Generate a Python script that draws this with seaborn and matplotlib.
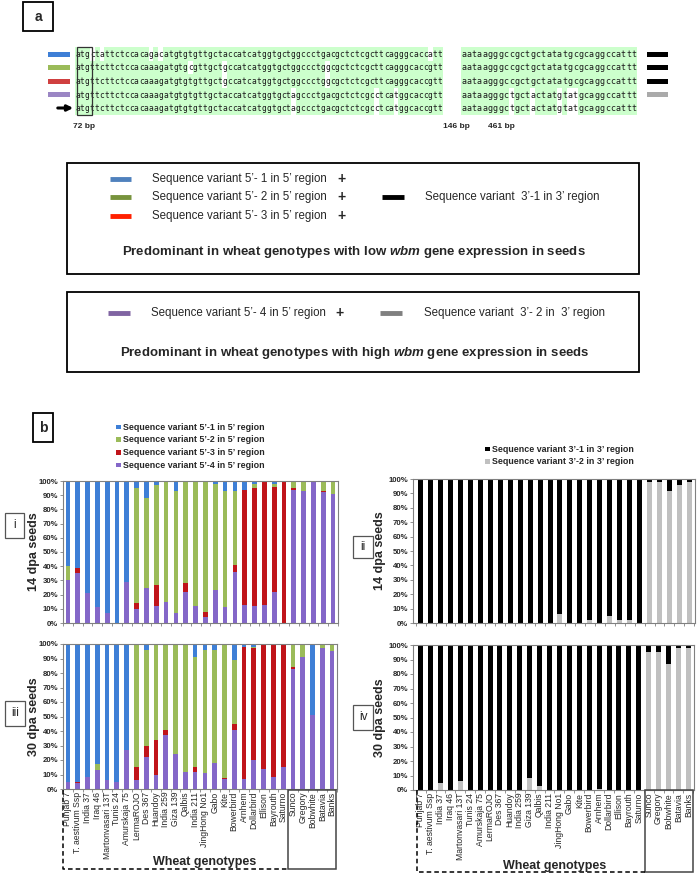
import numpy as np
import pandas as pd
import matplotlib
matplotlib.use("Agg")
import matplotlib.pyplot as plt
import seaborn as sns
from matplotlib.patches import Rectangle
from collections import Counter

sns.set_style("white")
plt.rcParams['font.family'] = ['Liberation Sans', 'DejaVu Sans']
plt.rcParams['mathtext.fontset'] = 'custom'
plt.rcParams['mathtext.it'] = 'Liberation Sans:italic:bold'
plt.rcParams['mathtext.rm'] = 'Liberation Sans:bold'

# ---------------- data ----------------
genotypes = ["Punjab 7", "T. aestivum Ssp", "India 37", "Iraq 46", "Martonvasari 13T",
             "Tunis 24", "Amurskaja 75", "LermaROJO", "Des 367", "Huandoy", "India 259",
             "Giza 139", "Qalbis", "India 211", "JingHong No1", "Gabo", "Kite",
             "Bowerbird", "Arnhem", "Dollarbird", "Ellison", "Bayrouth", "Saturno",
             "Sunco", "Gregory", "Bobwhite", "Batavia", "Banks"]

# 14 dpa, 5' region (% of clones)
v54_14 = [30, 35, 21, 11, 7, 0, 29, 10, 25, 12, 15, 7, 22, 12, 4, 23, 11, 36, 13, 12, 13, 22, 0, 94, 93, 99, 92, 91]
v53_14 = [0, 4, 0, 0, 0, 0, 0, 4, 0, 15, 0, 0, 6, 0, 4, 0, 0, 5, 81, 83, 86, 74, 100, 1, 0, 0, 1, 0]
v52_14 = [10, 0, 0, 0, 0, 0, 0, 81, 63, 70, 85, 86, 72, 88, 92, 75, 82, 52, 0, 3, 0, 2, 0, 5, 7, 0, 7, 9]
v51_14 = [60, 61, 79, 89, 93, 100, 71, 5, 12, 3, 0, 7, 0, 0, 0, 2, 7, 7, 6, 2, 1, 2, 0, 0, 0, 1, 0, 0]

# 30 dpa, 5' region
v54_30 = [5, 4, 8, 13, 6, 5, 27, 6, 22, 10, 37, 24, 12, 12, 11, 18, 7, 41, 7, 20, 14, 8, 15, 83, 91, 51, 97, 95]
v53_30 = [0, 1, 0, 0, 0, 0, 0, 9, 8, 24, 4, 0, 0, 3, 0, 0, 0.5, 4, 91, 77, 85, 91, 84, 1, 0, 0, 0, 0.5]
v52_30 = [0, 0, 0, 4, 0, 0, 0, 84, 66, 65, 59, 76, 88, 76, 85, 78, 92.5, 44, 0, 1, 1, 0, 0, 16, 9, 0, 3, 4.5]
v51_30 = [95, 95, 92, 83, 94, 95, 73, 1, 4, 1, 0, 0, 0, 9, 4, 4, 0, 11, 2, 2, 0, 1, 1, 0, 0, 49, 0, 0]

# 3' region
v32_14 = [0, 0, 0, 0, 0, 0, 0, 0, 0, 0, 0, 0, 0, 0, 6, 0, 0, 2, 0, 5, 2, 2, 0, 98, 98, 92, 96, 98]
v31_14 = [100, 100, 100, 100, 100, 100, 100, 100, 100, 100, 100, 100, 100, 100, 94, 100, 100, 98, 100, 95, 98, 98, 100, 2, 2, 8, 4, 2]
v32_30 = [0, 0, 5, 0, 6, 0, 0, 0, 0, 0, 0, 8, 3, 0, 0, 0, 0, 0, 1, 0, 0, 0, 0, 95, 95, 87, 98, 98]
v31_30 = [100, 100, 95, 100, 94, 100, 100, 100, 100, 100, 100, 92, 97, 100, 100, 100, 100, 100, 99, 100, 100, 100, 100, 5, 5, 13, 2, 2]

seqA = ["atgctattctccacagacatgtgtgttgctaccatcatggtgctggccctgacgctctcgcttcagggcaccatt",
        "atgttcttctccacaaagatgtgcgttgctgccatcatggtgctggccctggcgctctcgcttcagggcaccgtt",
        "atgttcttctccacaaagatgtgtgttgctgccatcatggtgctggccctggcgctctcgcttcagggcaccgtt",
        "atgttcttctccacaaagatgtgtgttgctaccatcatggtgctagccctgacgctctcgcctcatggcaccgtt",
        "atgttcttctccacaaagatgtgtgttgctaccatcatggtgctagccctgacgctctcgcctcatggcaccgtt"]
seqB = ["aataagggccgctgctatatgcgcaggccattt",
        "aataagggccgctgctatatgcgcaggccattt",
        "aataagggccgctgctatatgcgcaggccattt",
        "aataagggctgctactatgtatgcaggccattt",
        "aataagggctgctactatgtatgcaggccattt"]

c_blue, c_green, c_red, c_purple = "#3e7fd6", "#9bbb59", "#c0141a", "#8467c8"
c_black, c_lgray = "#000000", "#c0c0c0"

W, H = 700, 876
fig = plt.figure(figsize=(7, 8.76), dpi=100)
ov = fig.add_axes([0, 0, 1, 1], zorder=5)
ov.set_xlim(0, W); ov.set_ylim(H, 0); ov.axis('off'); ov.patch.set_alpha(0)

def px_axes(l, t, r, b):
    return fig.add_axes([l / W, 1 - b / H, (r - l) / W, (b - t) / H])

# ---------------- panel a ----------------
ov.add_patch(Rectangle((23, 2), 30, 29, fill=False, lw=1.3, ec='k'))
ov.text(38, 17, 'a', fontsize=10, fontweight='bold', ha='center', va='center')

rows_y = [54, 67.5, 81, 94.5, 108]

def draw_seg(seqs, x0, pitch, fs):
    n = len(seqs[0])
    for j in range(n):
        col = [s[j] for s in seqs]
        maj = Counter(col).most_common(1)[0][0]
        x = x0 + j * pitch
        for i, s in enumerate(seqs):
            if s[j] == maj:
                ov.add_patch(Rectangle((x - pitch / 2 - 0.05, rows_y[i] - 6.8), pitch + 0.1, 13.6,
                                       fc='#ccffcc', ec='none', zorder=1))
            ov.text(x, rows_y[i] + 0.5, s[j], fontsize=fs, family='DejaVu Sans Mono',
                    ha='center', va='center', zorder=2, color='#1a1a1a')

draw_seg(seqA, 77.5, 4.9, 5.7)
draw_seg(seqB, 463.5, 5.33, 6.0)

left_cols = [c_blue, c_green, "#d04040", "#9b86c4"]
for i, c in enumerate(left_cols):
    ov.add_patch(Rectangle((48, rows_y[i] - 2.5), 22, 5, fc=c, ec='none'))
for i, c in enumerate(['k', 'k', 'k', '#aaaaaa']):
    ov.add_patch(Rectangle((647, rows_y[i] - 2.5), 21, 5, fc=c, ec='none'))
ov.annotate('', xy=(76, rows_y[4]), xytext=(55, rows_y[4]),
            arrowprops=dict(arrowstyle='-|>', lw=2.2, color='k', mutation_scale=8))
ov.add_patch(Rectangle((77, 47), 15, 68, fill=False, lw=0.9, ec='#333333', zorder=3))
for x, t in [(84, '72 bp'), (456, '146 bp'), (501, '461 bp')]:
    ov.text(x, 127, t, fontsize=6, fontweight='bold', ha='center', va='center')

# legend box 1
ov.add_patch(Rectangle((67, 163), 572, 111, fill=False, lw=1.3, ec='k'))
for y, c, n in [(179, "#4f81bd", "1"), (197, "#77933c", "2"), (216, "#ff2000", "3")]:
    ov.plot([110, 131], [y, y], color=c, lw=3.5, solid_capstyle='butt')
    ov.text(152, y, "Sequence variant 5\u2019- %s in 5\u2019 region" % n, fontsize=8.3,
            va='center', ha='left')
    ov.text(342, y, "+", fontsize=10, fontweight='bold', va='center', ha='center')
ov.plot([382, 404], [197, 197], color='k', lw=3.5, solid_capstyle='butt')
ov.text(425, 197, "Sequence variant  3\u2019-1 in 3\u2019 region", fontsize=8.3,
        va='center', ha='left')
ov.text(354, 252, r"Predominant in wheat genotypes with low $\mathit{wbm}$ gene expression in seeds",
        fontsize=9.5, fontweight='bold', ha='center', va='center')
# legend box 2
ov.add_patch(Rectangle((67, 292), 572, 80, fill=False, lw=1.3, ec='k'))
ov.plot([108, 130], [313, 313], color="#8064a2", lw=3.5, solid_capstyle='butt')
ov.text(151, 313, "Sequence variant 5\u2019- 4 in 5\u2019 region", fontsize=8.3,
        va='center', ha='left')
ov.text(339, 313, "+", fontsize=10, fontweight='bold', va='center', ha='center')
ov.plot([380, 402], [313, 313], color="#808080", lw=3.5, solid_capstyle='butt')
ov.text(424, 313, "Sequence variant  3\u2019- 2 in  3\u2019 region", fontsize=8.3,
        va='center', ha='left')
ov.text(355, 353, r"Predominant in wheat genotypes with high $\mathit{wbm}$ gene expression in seeds",
        fontsize=9.5, fontweight='bold', ha='center', va='center')

# ---------------- panel b ----------------
ov.add_patch(Rectangle((33, 413), 20, 29, fill=False, lw=1.3, ec='k'))
ov.text(43, 428, 'b', fontsize=10, fontweight='bold', ha='center', va='center')

leg5 = [(c_blue, "Sequence variant 5\u2019-1 in 5\u2019 region"),
        (c_green, "Sequence variant 5\u2019-2 in 5\u2019 region"),
        (c_red, "Sequence variant 5\u2019-3 in 5\u2019 region"),
        (c_purple, "Sequence variant 5\u2019-4 in 5\u2019 region")]
for k, (c, t) in enumerate(leg5):
    y = 427 + k * 12.7
    ov.add_patch(Rectangle((116, y - 2.3), 4.6, 4.6, fc=c, ec='none'))
    ov.text(123, y, t, fontsize=6.4, fontweight='bold', va='center', ha='left')
leg3 = [(c_black, "Sequence variant 3\u2019-1 in 3\u2019 region"),
        (c_lgray, "Sequence variant 3\u2019-2 in 3\u2019 region")]
for k, (c, t) in enumerate(leg3):
    y = 449 + k * 12.3
    ov.add_patch(Rectangle((485, y - 2.3), 4.6, 4.6, fc=c, ec='none'))
    ov.text(492, y, t, fontsize=6.4, fontweight='bold', va='center', ha='left')


def stacked(ax, layers, colors, width):
    cum = np.cumsum(np.array(layers, dtype=float), axis=0)
    for k in range(len(layers) - 1, -1, -1):
        sns.barplot(x=genotypes, y=cum[k], order=genotypes, color=colors[k], width=width,
                    saturation=1, errorbar=None, ax=ax, linewidth=0)


def style(ax, show_x, xlim, ylab, lab_x):
    ax.set_xlim(*xlim); ax.set_ylim(0, 100)
    ax.set_yticks(np.arange(0, 101, 10))
    ax.set_yticklabels([f"{v}%" for v in range(0, 101, 10)], fontsize=5.6, fontweight='bold')
    ax.set_xticks(range(len(genotypes)))
    if show_x:
        ax.set_xticklabels(genotypes, rotation=90, fontsize=6.2)
    else:
        ax.set_xticklabels([])
    ax.set_xticks(np.arange(-0.5, len(genotypes), 1), minor=True)
    ax.tick_params(axis='x', which='major', bottom=True, length=0, pad=2)
    ax.tick_params(axis='x', which='minor', bottom=True, length=2.5, width=0.6,
                   color='#808080', direction='out')
    ax.tick_params(axis='y', left=True, length=2, width=0.6, pad=1.5, color='#808080')
    for s in ax.spines.values():
        s.set_visible(True); s.set_color('#808080'); s.set_linewidth(0.8)
    ax.set_xlabel('')
    ax.set_ylabel(ylab, fontsize=9, fontweight='bold')
    ax.yaxis.set_label_coords(lab_x, 0.5)
    ax.patch.set_alpha(0)


ax1 = px_axes(63, 481, 338, 623)
stacked(ax1, [v54_14, v53_14, v52_14, v51_14], [c_purple, c_red, c_green, c_blue], 0.48)
style(ax1, False, (-0.5, 27.5), "14 dpa seeds", -0.085)

ax3 = px_axes(63, 644, 337, 789)
stacked(ax3, [v54_30, v53_30, v52_30, v51_30], [c_purple, c_red, c_green, c_blue], 0.48)
style(ax3, True, (-0.5, 27.5), "30 dpa seeds", -0.085)

ax2 = px_axes(413, 479, 695, 623)
stacked(ax2, [v32_14, v31_14], [c_lgray, c_black], 0.5)
style(ax2, False, (-0.77, 27.57), "14 dpa seeds", -0.095)

ax4 = px_axes(413, 645, 694, 790)
stacked(ax4, [v32_30, v31_30], [c_lgray, c_black], 0.5)
style(ax4, True, (-0.77, 27.57), "30 dpa seeds", -0.095)

# roman labels
for (x0, y0, w, h, t) in [(5, 513, 19, 25, 'i'), (353, 536, 20, 22, 'ii'),
                           (5, 701, 20, 25, 'iii'), (353, 705, 20, 25, 'iv')]:
    ov.add_patch(Rectangle((x0, y0), w, h, fill=False, lw=0.9, ec='#555555'))
    ov.text(x0 + w / 2, y0 + h / 2, t, fontsize=8.5, ha='center', va='center')

# genotype group boxes
ov.plot([63, 63, 288], [790, 869, 869], color='k', lw=1.1, ls=(0, (3, 2)))
ov.add_patch(Rectangle((288, 790), 48, 79, fill=False, lw=1.1, ec='#444444'))
ov.text(205, 862, "Wheat genotypes", fontsize=9, fontweight='bold', ha='center', va='center')
ov.plot([417, 417, 645], [790, 872, 872], color='k', lw=1.1, ls=(0, (3, 2)))
ov.add_patch(Rectangle((645, 790), 48, 82, fill=False, lw=1.1, ec='#444444'))
ov.text(555, 866, "Wheat genotypes", fontsize=9, fontweight='bold', ha='center', va='center')

fig.savefig("out.png", dpi=100)
